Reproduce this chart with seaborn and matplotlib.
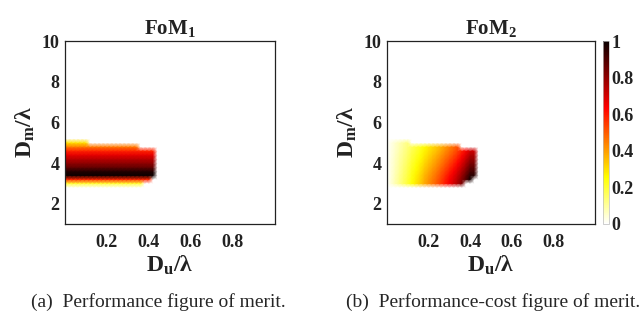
import numpy as np
import seaborn as sns
import matplotlib
matplotlib.use("Agg")
import matplotlib.pyplot as plt

# grid used for the merit maps (Du/lambda columns, Dm/lambda rows)
du = np.round(np.arange(0, 1.0001, 0.02), 2)
dm = np.round(np.arange(1, 10.0001, 0.2), 1)

# feasible region: column ranges and their Dm extent
seg_du_from = [0.00, 0.12, 0.36, 0.38, 0.42]
seg_du_to = [0.10, 0.34, 0.36, 0.40, 0.42]
seg_dm_low = [3.0, 3.0, 3.0, 3.2, 3.4]
seg_dm_high = [5.0, 4.8, 4.6, 4.6, 4.6]

# FoM1: depends almost only on Dm/lambda
fom1_dm = [3.0, 3.2, 3.4, 3.6, 3.8, 4.0, 4.2, 4.4, 4.6, 4.8, 5.0]
fom1_val = [0.20, 0.58, 1.00, 0.96, 0.86, 0.80, 0.74, 0.67, 0.58, 0.45, 0.30]

# FoM2: grows with Du/lambda, weighted down for larger Dm/lambda
fom2_du = [0.00, 0.02, 0.04, 0.06, 0.08, 0.10, 0.12, 0.14, 0.16, 0.18, 0.20, 0.22,
           0.24, 0.26, 0.28, 0.30, 0.32, 0.34, 0.36, 0.38, 0.40, 0.42]
fom2_du_val = [0.00, 0.04, 0.08, 0.12, 0.16, 0.20, 0.25, 0.29, 0.33, 0.38, 0.42, 0.46,
               0.50, 0.55, 0.60, 0.65, 0.70, 0.76, 0.83, 0.91, 1.00, 1.00]
fom2_dm_weight = [1.00, 0.98, 0.95, 0.91, 0.87, 0.83, 0.79, 0.75, 0.71, 0.68, 0.65]

titles = [r"$\mathbf{FoM}_\mathbf{1}$", r"$\mathbf{FoM}_\mathbf{2}$"]
captions = ["(a)  Performance figure of merit.", "(b)  Performance-cost figure of merit."]
xticks = [0.2, 0.4, 0.6, 0.8]
yticks = [2, 4, 6, 8, 10]
cbar_ticks = [0, 0.2, 0.4, 0.6, 0.8, 1]


def build_maps():
    f1 = np.zeros((len(dm), len(du)))
    f2 = np.zeros((len(dm), len(du)))
    for a, b, lo, hi in zip(seg_du_from, seg_du_to, seg_dm_low, seg_dm_high):
        for j, x in enumerate(du):
            if x < a - 1e-9 or x > b + 1e-9:
                continue
            for i, y in enumerate(dm):
                if y < lo - 1e-9 or y > hi + 1e-9:
                    continue
                k = fom1_dm.index(y)
                f1[i, j] = fom1_val[k]
                f2[i, j] = min(1.0, fom2_du_val[fom2_du.index(x)] * fom2_dm_weight[k])
    return f1, f2


sns.set_style("white")
plt.rcParams['font.family'] = ['Liberation Serif', 'DejaVu Serif']
plt.rcParams['mathtext.fontset'] = 'custom'
plt.rcParams['mathtext.rm'] = 'Liberation Serif'
plt.rcParams['mathtext.bf'] = 'Liberation Serif:bold'
plt.rcParams['mathtext.it'] = 'Liberation Serif:italic'

cmap = sns.color_palette("hot_r", as_cmap=True)
fom1, fom2 = build_maps()

fig = plt.figure(figsize=(6.43, 3.24), dpi=100)
ax1 = fig.add_axes([65 / 643, 100 / 324, 210 / 643, 183 / 324])
ax2 = fig.add_axes([387 / 643, 100 / 324, 208 / 643, 183 / 324])
cax = fig.add_axes([603 / 643, 100 / 324, 6 / 643, 183 / 324])

X, Y = np.meshgrid(du, dm)
for ax, data, title in zip([ax1, ax2], [fom1, fom2], titles):
    mesh = ax.pcolormesh(X, Y, data, cmap=cmap, vmin=0, vmax=1, shading='gouraud')
    ax.set_xlim(0, 1)
    ax.set_ylim(1, 10)
    ax.set_xticks(xticks)
    ax.set_xticklabels([f"{t:g}" for t in xticks])
    ax.set_yticks(yticks)
    ax.set_yticklabels([str(t) for t in yticks])
    ax.tick_params(length=0, labelsize=13)
    ax.tick_params(axis='x', pad=7)
    ax.tick_params(axis='y', pad=4)
    for lab in ax.get_xticklabels() + ax.get_yticklabels():
        lab.set_fontweight('bold')
        lab.set_color('#222222')
    for sp in ax.spines.values():
        sp.set_visible(True)
        sp.set_color('#222222')
        sp.set_linewidth(0.9)
    ax.set_title(title, fontsize=15, pad=5, color='#222222')
    ax.set_xlabel(r"$\mathbf{D}_\mathbf{u}$/λ", fontsize=17, fontweight='bold',
                  labelpad=2, color='#222222')
    ax.set_ylabel(r"$\mathbf{D}_\mathbf{m}$/λ", fontsize=17, fontweight='bold',
                  labelpad=3, color='#222222')

cb = fig.colorbar(mesh, cax=cax, ticks=cbar_ticks)
cb.ax.set_yticklabels([f"{t:g}" for t in cbar_ticks])
cb.ax.tick_params(length=0, labelsize=13, pad=2)
for lab in cb.ax.get_yticklabels():
    lab.set_fontweight('bold')
    lab.set_color('#222222')
cb.outline.set_linewidth(0.5)
cb.outline.set_edgecolor('#bbbbbb')

fig.text(158 / 643, 1 - 302 / 324, captions[0], ha='center', va='center', fontsize=14)
fig.text(493 / 643, 1 - 302 / 324, captions[1], ha='center', va='center', fontsize=14)

fig.savefig("out.png", dpi=100)
